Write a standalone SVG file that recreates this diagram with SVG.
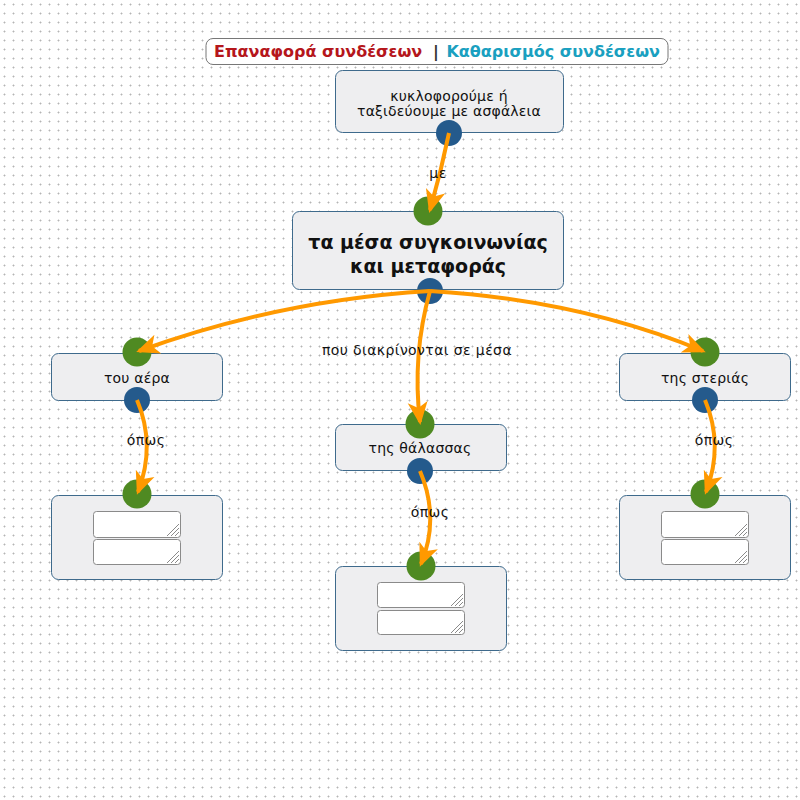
<svg xmlns="http://www.w3.org/2000/svg" width="800" height="800" viewBox="0 0 800 800">
<defs>
<pattern id="grid" x="0" y="0" width="9" height="9" patternUnits="userSpaceOnUse">
<rect width="9" height="9" fill="#ffffff"/>
<rect x="3" y="4" width="3" height="1" fill="#dddddd"/>
<rect x="4" y="3" width="1" height="3" fill="#dddddd"/>
<rect x="4" y="4" width="1" height="1" fill="#b4b4b4"/>
</pattern>
<marker id="arr" markerUnits="userSpaceOnUse" markerWidth="24" markerHeight="22" viewBox="0 0 24 22" refX="20" refY="11" orient="auto">
<path d="M0,1 L23,11 L0,21 L6,11 z" fill="#ff9900"/>
</marker>
<style>
.node rect.box{fill:#eeeef0;stroke:#3e6a8c;stroke-width:1}
.t{font-family:"DejaVu Sans","Noto Sans",sans-serif;font-size:14px;letter-spacing:0.2px;fill:#111;text-anchor:middle}
.big{font-family:"DejaVu Sans","Noto Sans",sans-serif;font-size:19px;font-weight:bold;fill:#111;text-anchor:middle}
.lbl{font-family:"DejaVu Sans","Noto Sans",sans-serif;font-size:14px;letter-spacing:0.4px;fill:#111;text-anchor:middle}
.hd{font-family:"DejaVu Sans","Noto Sans",sans-serif;font-size:16px;font-weight:bold}
.g{fill:#4f8a22}
.b{fill:#245a8c}
.ta{fill:#ffffff;stroke:#8a8a8a;stroke-width:1}
.hatch{stroke:#8a8a8a;stroke-width:1}
.c{fill:none;stroke:#ff9900;stroke-width:4;marker-end:url(#arr)}
</style>
</defs>
<rect width="800" height="800" fill="url(#grid)"/>

<g id="header">
<rect x="206" y="38.5" width="462" height="26" rx="7" fill="#ffffff" stroke="#777" stroke-width="1"/>
<text class="hd" x="214" y="57" fill="#b5161b" text-anchor="start">Επαναφορά συνδέσεων</text>
<text class="hd" x="436" y="57" fill="#333" text-anchor="middle">|</text>
<text class="hd" x="660" y="57" fill="#1aa0c0" text-anchor="end">Καθαρισμός συνδέσεων</text>
</g>

<g id="n1" class="node">
<rect class="box" x="335.5" y="70.5" width="228" height="62" rx="7"/>
<text class="t" x="449" y="101">κυκλοφορούμε ή</text>
<text class="t" x="449" y="116">ταξιδεύουμε με ασφάλεια</text>
<circle class="b" cx="449" cy="133" r="13"/>
</g>

<g id="n2" class="node">
<rect class="box" x="292.5" y="211.5" width="271" height="78" rx="7"/>
<circle class="g" cx="428" cy="211" r="14.5"/>
<text class="big" x="428" y="249">τα μέσα συγκοινωνίας</text>
<text class="big" x="428" y="273">και μεταφοράς</text>
<circle class="b" cx="430" cy="291" r="13"/>
</g>

<g id="n3" class="node">
<rect class="box" x="51.5" y="353.5" width="171" height="47" rx="7"/>
<circle class="g" cx="137" cy="352" r="14.5"/>
<text class="t" x="137" y="383">του αέρα</text>
<circle class="b" cx="137" cy="400" r="13"/>
</g>

<g id="n4" class="node">
<rect class="box" x="335.5" y="424.5" width="171" height="46" rx="7"/>
<circle class="g" cx="420" cy="424" r="14.5"/>
<text class="t" x="420" y="453">της θάλασσας</text>
<circle class="b" cx="420" cy="471" r="13"/>
</g>

<g id="n5" class="node">
<rect class="box" x="619.5" y="353.5" width="171" height="47" rx="7"/>
<circle class="g" cx="705" cy="352" r="14.5"/>
<text class="t" x="705" y="383">της στεριάς</text>
<circle class="b" cx="705" cy="400" r="13"/>
</g>

<g id="n6" class="node">
<rect class="box" x="51.5" y="495.5" width="171" height="84" rx="7"/>
<circle class="g" cx="137" cy="494" r="14.5"/>
<rect class="ta" x="93.5" y="511.5" width="87" height="26" rx="3"/>
<path class="hatch" d="M167,536 L179,524 M171,536 L179,528 M175,536 L179,532"/>
<rect class="ta" x="93.5" y="539.5" width="87" height="25" rx="3"/>
<path class="hatch" d="M167,563 L179,551 M171,563 L179,555 M175,563 L179,559"/>
</g>

<g id="n7" class="node">
<rect class="box" x="335.5" y="566.5" width="171" height="84" rx="7"/>
<circle class="g" cx="421" cy="566" r="14.5"/>
<rect class="ta" x="377.5" y="582.5" width="87" height="25" rx="3"/>
<path class="hatch" d="M451,606 L463,594 M455,606 L463,598 M459,606 L463,602"/>
<rect class="ta" x="377.5" y="610.5" width="87" height="24" rx="3"/>
<path class="hatch" d="M451,633 L463,621 M455,633 L463,625 M459,633 L463,629"/>
</g>

<g id="n8" class="node">
<rect class="box" x="619.5" y="495.5" width="171" height="84" rx="7"/>
<circle class="g" cx="705" cy="494" r="14.5"/>
<rect class="ta" x="661.5" y="511.5" width="87" height="26" rx="3"/>
<path class="hatch" d="M735,536 L747,524 M739,536 L747,528 M743,536 L747,532"/>
<rect class="ta" x="661.5" y="539.5" width="87" height="25" rx="3"/>
<path class="hatch" d="M735,563 L747,551 M739,563 L747,555 M743,563 L747,559"/>
</g>

<g id="connectors">
<path class="c" d="M449,133 Q441,172 430,210"/>
<path class="c" d="M430,291 Q280,300 139,351"/>
<path class="c" d="M430,291 Q580,300 703,351"/>
<path class="c" d="M430,291 Q412,355 420,422"/>
<path class="c" d="M137,400 Q156,445 138,492"/>
<path class="c" d="M420,471 Q440,518 421,564"/>
<path class="c" d="M705,400 Q724,445 706,492"/>
</g>

<g id="labels">
<text class="lbl" x="438" y="178">με</text>
<text class="lbl" x="417" y="355">που διακρίνονται σε μέσα</text>
<text class="lbl" x="146" y="445">όπως</text>
<text class="lbl" x="430" y="517">όπως</text>
<text class="lbl" x="714" y="445">όπως</text>
</g>
</svg>
